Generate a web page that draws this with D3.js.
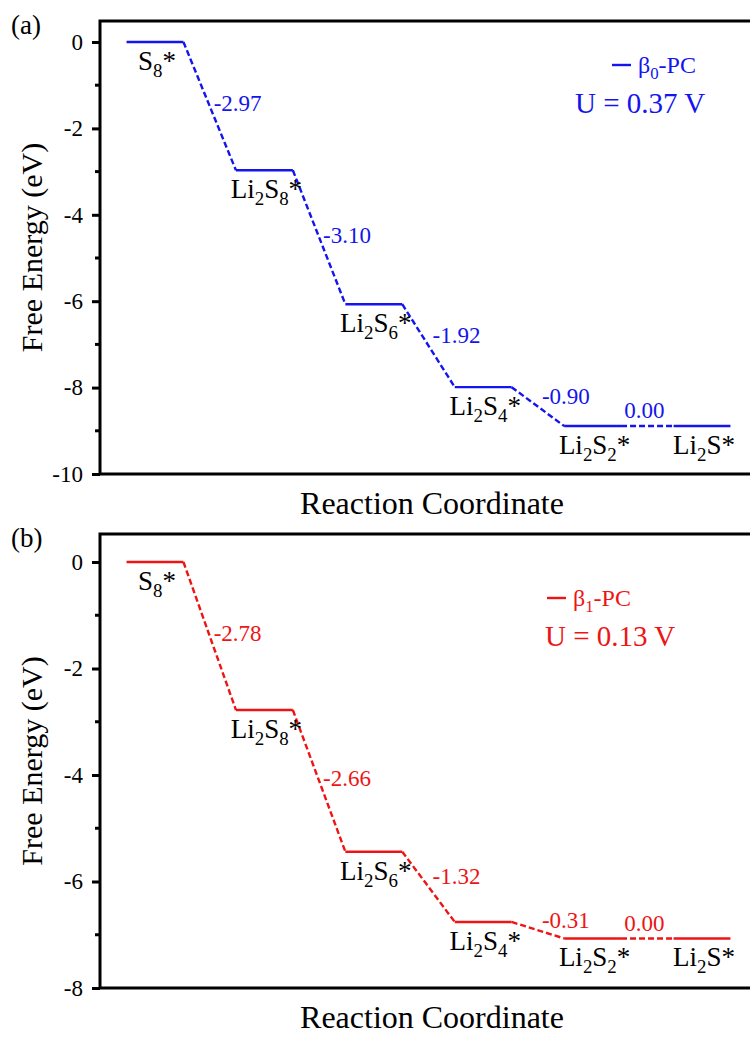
<!DOCTYPE html>
<html>
<head>
<meta charset="utf-8">
<script src="https://cdn.jsdelivr.net/npm/d3@7"></script>
<style>
  body { margin: 0; background: #fff; }
  svg text { font-family: "Liberation Serif", "Times New Roman", serif; }
</style>
</head>
<body>
<div id="chart"></div>
<script>
// reaction steps (underscore = next char subscript)
const steps = ["S_8*", "Li_2S_8*", "Li_2S_6*", "Li_2S_4*", "Li_2S_2*", "Li_2S*"];

// relative free energies (eV)
const energyB0 = [0, -2.97, -6.07, -7.99, -8.89, -8.89];
const energyB1 = [0, -2.78, -5.44, -6.76, -7.07, -7.07];

// step energy labels
const deltaB0 = ["-2.97", "-3.10", "-1.92", "-0.90", "0.00"];
const deltaB1 = ["-2.78", "-2.66", "-1.32", "-0.31", "0.00"];

const ticksB0 = [0, -2, -4, -6, -8, -10];
const ticksB1 = [0, -2, -4, -6, -8];

const W = 750, H = 1037;
const svg = d3.select("#chart").append("svg")
    .attr("width", W)
    .attr("height", H);

const xScale = d3.scaleLinear().domain([0, 5]).range([155, 702]);
const half = 0.26;

// text with simple subscripts
function addLabel(g, str, x, y, size, anchor) {
    const t = g.append("text")
        .attr("x", x).attr("y", y)
        .attr("text-anchor", anchor)
        .attr("font-size", size);
    const shift = Math.round(size * 0.25);
    let sub = false;
    let i = 0;
    while (i < str.length) {
        if (str[i] === "_") {
            t.append("tspan")
                .attr("font-size", size * 0.7)
                .attr("dy", sub ? 0 : shift)
                .text(str[i + 1]);
            sub = true;
            i += 2;
        } else {
            let j = i;
            while (j < str.length && str[j] !== "_") j++;
            t.append("tspan")
                .attr("dy", sub ? -shift : 0)
                .text(str.slice(i, j));
            sub = false;
            i = j;
        }
    }
    return t;
}

function drawPanel(o) {
    const g = svg.append("g");
    const yScale = d3.scaleLinear().domain(o.domain).range([o.bottom, o.top]);

    // frame (right side runs off the picture)
    g.append("path")
        .attr("d", `M760,${o.top}H100V${o.bottom}H760`)
        .attr("fill", "none").attr("stroke", "#000").attr("stroke-width", 3);

    const axis = d3.axisLeft(yScale).tickValues(o.ticks).tickSize(8).tickFormat(d3.format("d"));
    const ax = g.append("g").attr("transform", "translate(100,0)").call(axis);
    ax.select(".domain").remove();
    ax.selectAll(".tick line").attr("stroke-width", 3);
    ax.selectAll(".tick text")
        .attr("font-size", 23)
        .attr("x", -17)
        .text(d => String(d));

    const minor = d3.range(o.domain[0] + 1, 0, 2);
    g.selectAll(".minor").data(minor).enter().append("line")
        .attr("x1", 95).attr("x2", 100)
        .attr("y1", d => yScale(d)).attr("y2", d => yScale(d))
        .attr("stroke", "#000").attr("stroke-width", 3);

    // energy levels
    g.selectAll(".level").data(o.energy).enter().append("line")
        .attr("x1", (d, i) => xScale(i - half))
        .attr("x2", (d, i) => xScale(i + half))
        .attr("y1", d => yScale(d)).attr("y2", d => yScale(d))
        .attr("stroke", o.color).attr("stroke-width", 2.4);

    // dashed connectors
    const links = o.energy.slice(1).map((d, i) => ({ i, from: o.energy[i], to: d, label: o.delta[i] }));
    g.selectAll(".link").data(links).enter().append("line")
        .attr("x1", d => xScale(d.i + half))
        .attr("x2", d => xScale(d.i + 1 - half))
        .attr("y1", d => yScale(d.from)).attr("y2", d => yScale(d.to))
        .attr("stroke", o.color).attr("stroke-width", 2.4)
        .attr("stroke-dasharray", "6,3");

    g.selectAll(".dlabel").data(links).enter().append("text")
        .attr("fill", o.color)
        .attr("font-size", 23)
        .attr("dominant-baseline", "middle")
        .attr("text-anchor", d => d.from === d.to ? "middle" : "start")
        .attr("x", d => {
            const mx = (xScale(d.i + half) + xScale(d.i + 1 - half)) / 2;
            return d.from === d.to ? mx - 3 : mx + 4;
        })
        .attr("y", d => {
            const my = (yScale(d.from) + yScale(d.to)) / 2;
            const drop = Math.abs(d.to - d.from);
            if (drop === 0) return my - 13;
            return drop > 2.2 ? my : my - 8;
        })
        .text(d => d.label);

    // step names
    o.energy.forEach((e, i) => {
        addLabel(g, steps[i], xScale(i) + 2, yScale(e) + 28, 27, "middle").attr("fill", "#000");
    });

    // panel letter
    g.append("text").attr("x", 11).attr("y", o.top + 13).attr("font-size", 27).text(o.letter);

    // y title
    g.append("text")
        .attr("transform", `translate(42,${(o.top + o.bottom) / 2}) rotate(-90)`)
        .attr("text-anchor", "middle")
        .attr("font-size", 30)
        .text("Free Energy (eV)");

    // x title
    g.append("text")
        .attr("x", 432).attr("y", o.bottom + 40)
        .attr("text-anchor", "middle")
        .attr("font-size", 32)
        .text("Reaction Coordinate");

    // legend
    const lg = g.append("g").attr("fill", o.color);
    lg.append("line")
        .attr("x1", o.legX).attr("x2", o.legX + 19)
        .attr("y1", o.top + o.legDy).attr("y2", o.top + o.legDy)
        .attr("stroke", o.color).attr("stroke-width", 2.4);
    addLabel(lg, o.series, o.legX + 26, o.top + o.legDy + 8, 24, "start");
    lg.append("text")
        .attr("x", o.uX).attr("y", o.top + o.legDy + 48)
        .attr("font-size", 29)
        .text(o.uText);
}

drawPanel({
    top: 21, bottom: 474, domain: [-10, 0.486], ticks: ticksB0,
    energy: energyB0, delta: deltaB0, color: "#1414ee", letter: "(a)",
    series: "β_0-PC", uText: "U = 0.37 V", legX: 612, uX: 575, legDy: 44
});
drawPanel({
    top: 534, bottom: 988, domain: [-8, 0.526], ticks: ticksB1,
    energy: energyB1, delta: deltaB1, color: "#ee1414", letter: "(b)",
    series: "β_1-PC", uText: "U = 0.13 V", legX: 547, uX: 545, legDy: 64
});
</script>
</body>
</html>
